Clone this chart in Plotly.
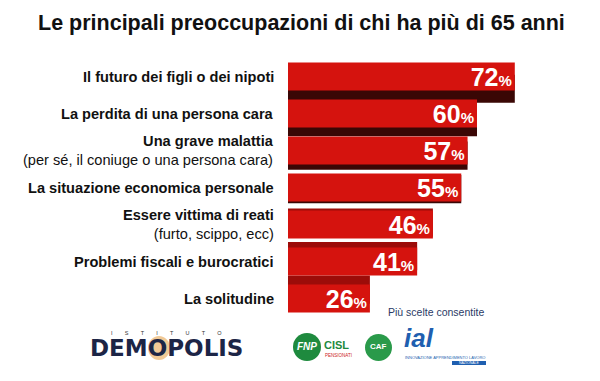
import plotly.graph_objects as go

categories = [
    "<b>Il futuro dei figli o dei nipoti</b>",
    "<b>La perdita di una persona cara</b>",
    "<b>Una grave malattia</b><br>(per sé, il coniuge o una persona cara)",
    "<b>La situazione economica personale</b>",
    "<b>Essere vittima di reati</b><br>(furto, scippo, ecc)",
    "<b>Problemi fiscali e burocratici</b>",
    "<b>La solitudine</b>",
]
values = [72, 60, 57, 55, 46, 41, 26]
title_text = "Le principali preoccupazioni di chi ha più di 65 anni"
note_text = "Più scelte consentite"

n = len(values)
idx = list(range(n))
# perspective depth: underside visible on top bars, top face on bottom bars
depth = [0.33 - 0.095 * i for i in idx]
depth_y = [i + d for i, d in zip(idx, depth)]
depth_col = ["#3a0705" if d > 0 else "#9c0c09" for d in depth]

labels = [f"<b>{v}</b><span style='font-size:15px'><b>%</b></span>" for v in values]

fig = go.Figure()
fig.add_trace(go.Bar(
    x=values, y=depth_y, orientation="h", width=0.76,
    marker=dict(color=depth_col, line=dict(width=0)),
    hoverinfo="skip", showlegend=False,
))
fig.add_trace(go.Bar(
    x=values, y=idx, orientation="h", width=0.76,
    marker=dict(color="#d5130e", line=dict(width=0)),
    text=labels, textposition="inside", insidetextanchor="end",
    constraintext="none",
    textfont=dict(family="Liberation Sans, Arial, sans-serif", size=25, color="white"),
    showlegend=False,
))

annotations = []
for i, c in enumerate(categories):
    annotations.append(dict(
        x=0, xref="paper", y=i, yref="y", xanchor="right", yanchor="middle",
        xshift=-12, align="right", showarrow=False, text=c,
        font=dict(family="Liberation Sans, Arial, sans-serif", size=14.6, color="#111111"),
    ))

def px(xp, yp):
    return (xp - 288) / 312, (381 - 64 - yp) / 259

def pann(xp, yp, text, size, color, anchor="left", family="Liberation Sans, Arial, sans-serif"):
    x, y = px(xp, yp)
    annotations.append(dict(x=x, y=y, xref="paper", yref="paper", showarrow=False,
                            text=text, xanchor=anchor, yanchor="middle",
                            font=dict(family=family, size=size, color=color)))

pann(301, 23, f"<b>{title_text}</b>", 21.5, "#111111", anchor="center")
pann(386, 312, note_text, 10.5, "#2a3a66", family="Liberation Sans Narrow, Arial Narrow, sans-serif")
sp = "&nbsp;" * 8
pann(166, 333, sp.join("ISTITUTO"), 5.5, "#333333", anchor="center")

shapes = []
def circ(x0, y0, x1, y1, color):
    a0, b0 = px(x0, y1)
    a1, b1 = px(x1, y0)
    shapes.append(dict(type="circle", xref="paper", yref="paper", x0=a0, y0=b0, x1=a1, y1=b1,
                       fillcolor=color, line=dict(width=0), layer="below"))

circ(148, 336, 170, 360, "rgba(232,165,80,0.6)")
pann(166, 348, "<b>DEMOPOLIS</b>", 23, "#1c2546", anchor="center", family="DejaVu Sans, Arial Black, sans-serif")
circ(293, 333, 321, 361, "#1e8a3e")
circ(365, 334, 392, 361, "#2a9a4a")
a0, b0 = px(452, 365)
a1, b1 = px(486, 361)
shapes.append(dict(type="rect", xref="paper", yref="paper", x0=a0, y0=b0, x1=a1, y1=b1,
                   fillcolor="#1f5fb0", line=dict(width=0)))
pann(322, 345, "<b>CISL</b>", 11, "#1e8a3e")
pann(323, 355, "PENSIONATI", 4.5, "#cc2222")
pann(402, 338, "<b><i>ial</i></b>", 26, "#1f5fb0")
pann(403, 357.5, "INNOVAZIONE APPRENDIMENTO LAVORO", 4, "#1f5fb0")
pann(307, 346, "<b><i>FNP</i></b>", 10, "white", anchor="center")
pann(378, 346, "<b>CAF</b>", 8, "white", anchor="center")
pann(469, 363, "NAZIONALE", 3.5, "white", anchor="center")

fig.update_layout(
    width=600, height=381,
    margin=dict(l=288, r=0, t=58, b=64),
    paper_bgcolor="white", plot_bgcolor="white",
    barmode="overlay",
    xaxis=dict(range=[0, 312 / 3.15], visible=False, fixedrange=True),
    yaxis=dict(range=[n - 0.5, -0.5], visible=False, fixedrange=True),
    annotations=annotations, shapes=shapes,
    font=dict(family="Liberation Sans, Arial, sans-serif"),
)

fig.write_html("out.html", config={"displayModeBar": False},
               post_script="document.body.style.margin='0px';document.body.style.padding='0px';")
